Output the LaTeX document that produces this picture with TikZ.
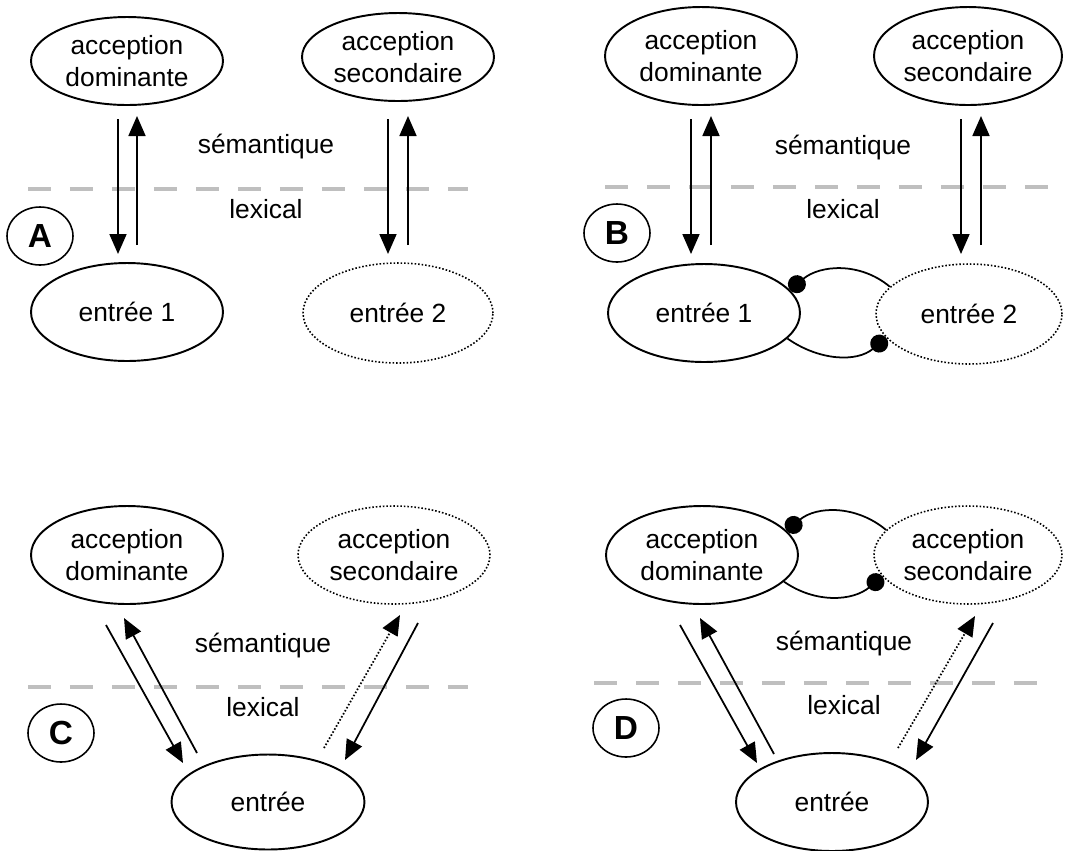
\documentclass[tikz,border=0pt]{standalone}
\usepackage{fontspec}
\setmainfont{Liberation Sans}
\usetikzlibrary{shapes.geometric,arrows.meta,calc}

\tikzset{
  sens/.style={ellipse, draw, line width=1.1pt, inner sep=0pt, align=center,
    minimum width=3.84cm, minimum height=1.96cm, font=\fontsize{15}{18}\selectfont},
  faible/.style={sens, line width=0.9pt, dash pattern=on 0.9pt off 1.1pt},
  lettre/.style={ellipse, draw, line width=0.9pt, inner sep=0pt,
    minimum width=1.32cm, minimum height=1.16cm, font=\fontsize{19}{19}\selectfont\bfseries},
  etiquette/.style={font=\fontsize{15}{18}\selectfont},
  niveau/.style={draw=black!25, line width=2.8pt, dash pattern=on 0.46cm off 0.38cm},
  fleche/.style={-{Triangle[length=0.4cm,width=0.34cm]}, line width=1pt},
  fleche faible/.style={fleche, dash pattern=on 0.9pt off 1.1pt},
  inhib/.style={-{Circle[length=0.36cm]}, line width=1pt},
}

\begin{document}
\begin{tikzpicture}[x=0.02cm,y=-0.02cm]
        \useasboundingbox (0,0) rectangle (1066,850);

        % the borders between the levels
        \draw[niveau] (28,189) -- (468,189);
        \draw[niveau] (605,187) -- (1049,187);
        \draw[niveau] (28,687) -- (468,687);
        \draw[niveau] (594,683) -- (1038,683);

        % the level names
        \node[etiquette] (semA) at (266,147) {sémantique};
        \node[etiquette] (lexA) at (266,209) {lexical};
        \node[etiquette] (semB) at (843,148) {sémantique};
        \node[etiquette] (lexB) at (843,209) {lexical};
        \node[etiquette] (semC) at (263,646) {sémantique};
        \node[etiquette] (lexC) at (263,707) {lexical};
        \node[etiquette] (semD) at (844,644) {sémantique};
        \node[etiquette] (lexD) at (844,705) {lexical};

        % the letters of the cases
        \node[lettre] (letA) at (40,236) {A};
        \node[lettre] (letB) at (617,233) {B};
        \node[lettre] (letC) at (61,733) {C};
        \node[lettre] (letD) at (626,728) {D};

        % case A: two entries
        \node[sens, minimum height=1.76cm] (domA) at (127,61) {acception\\dominante};
        \node[sens, minimum height=1.76cm] (secA) at (398,57) {acception\\secondaire};
        \node[sens] (e1A) at (127,312) {entrée 1};
        \node[faible, minimum width=3.8cm, minimum height=2cm] (e2A) at (398,313) {entrée 2};

        \draw[fleche] ($(domA)+(-9,58)$) -- ($(e1A)+(-9,-58)$);
        \draw[fleche] ($(e1A)+(10,-67)$) -- ($(domA)+(10,55)$);
        \draw[fleche] ($(secA)+(-10,62)$) -- ($(e2A)+(-10,-59)$);
        \draw[fleche] ($(e2A)+(10,-68)$) -- ($(secA)+(10,59)$);

        % case B: two entries which inhibit each other
        \node[sens] (domB) at (701,56) {acception\\dominante};
        \node[sens, minimum width=3.76cm] (secB) at (968,56) {acception\\secondaire};
        \node[sens] (e1B) at (704,313) {entrée 1};
        \node[faible, minimum width=3.72cm, minimum height=2cm] (e2B) at (969,314) {entrée 2};

        \draw[fleche] ($(domB)+(-10,63)$) -- ($(e1B)+(-13,-59)$);
        \draw[fleche] ($(e1B)+(7,-68)$) -- ($(domB)+(10,60)$);
        \draw[fleche] ($(secB)+(-7,63)$) -- ($(e2B)+(-8,-60)$);
        \draw[fleche] ($(e2B)+(12,-69)$) -- ($(secB)+(13,60)$);

        \draw[inhib] (e2B.161) to[out=140,in=40] (e1B.15);
        \draw[inhib] (e1B.-17) to[out=-35,in=-140] (e2B.196);

        % case C: one entry, two meanings
        \node[sens] (domC) at (127,555) {acception\\dominante};
        \node[faible] (secC) at (394,555) {acception\\secondaire};
        \node[sens, minimum width=3.86cm, minimum height=1.9cm] (entC) at (268,802) {entrée};

        \draw[fleche] ($(domC)+(-21,70)$) -- ($(entC)+(-85,-39)$);
        \draw[fleche] ($(entC)+(-71,-49)$) -- ($(domC)+(-3,63)$);
        \draw[fleche faible] ($(entC)+(56,-54)$) -- ($(secC)+(6,60)$);
        \draw[fleche] ($(secC)+(24,68)$) -- ($(entC)+(77,-42)$);

        % case D: one entry, two meanings which inhibit each other
        \node[sens] (domD) at (702,555) {acception\\dominante};
        \node[faible, minimum width=3.76cm] (secD) at (968,555) {acception\\secondaire};
        \node[sens] (entD) at (832,802) {entrée};

        \draw[fleche] ($(domD)+(-22,70)$) -- ($(entD)+(-75,-39)$);
        \draw[fleche] ($(entD)+(-58,-48)$) -- ($(domD)+(-2,63)$);
        \draw[fleche faible] ($(entD)+(66,-54)$) -- ($(secD)+(7,61)$);
        \draw[fleche] ($(secD)+(25,68)$) -- ($(entD)+(84,-42)$);

        \draw[inhib] (secD.163) to[out=140,in=40] (domD.16);
        \draw[inhib] (domD.-18) to[out=-35,in=-140] (secD.194);

\end{tikzpicture}
\end{document}
